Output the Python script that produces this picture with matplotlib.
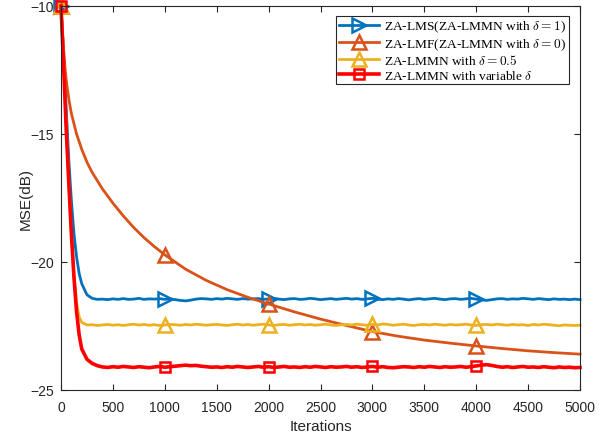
import numpy as np
import matplotlib
matplotlib.use("Agg")
import matplotlib.pyplot as plt

plt.rcParams['mathtext.fontset'] = 'cm'
plt.rcParams['font.family'] = ['Liberation Sans', 'DejaVu Sans']

# sampled iterations for the three fast curves
x_early = [0, 25, 50, 75, 100, 125, 150, 175, 200, 250, 300, 350]
x_plat = list(np.arange(400, 5001, 50))
x_fast = x_early + x_plat

blue_early = [-10, -11.9, -14.0, -16.0, -17.6, -18.9, -19.8, -20.45, -20.85, -21.28, -21.42, -21.46]
blue_plat = [-21.45, -21.47, -21.44, -21.46, -21.43, -21.46, -21.45, -21.42, -21.46, -21.44,
             -21.45, -21.43, -21.46, -21.44, -21.47, -21.50, -21.52, -21.49, -21.45, -21.43,
             -21.44, -21.46, -21.43, -21.45, -21.42, -21.44, -21.46, -21.43, -21.45, -21.44,
             -21.43, -21.46, -21.44, -21.42, -21.45, -21.47, -21.44, -21.43, -21.46, -21.45,
             -21.42, -21.44, -21.47, -21.45, -21.43, -21.46, -21.44, -21.42, -21.45, -21.43,
             -21.46, -21.44, -21.42, -21.45, -21.47, -21.44, -21.46, -21.43, -21.45, -21.48,
             -21.45, -21.43, -21.46, -21.44, -21.42, -21.45, -21.47, -21.44, -21.43, -21.46,
             -21.44, -21.42, -21.45, -21.48, -21.50, -21.47, -21.44, -21.43, -21.46, -21.44,
             -21.45, -21.42, -21.44, -21.46, -21.43, -21.45, -21.47, -21.44, -21.46, -21.45,
             -21.47, -21.45, -21.47]

yellow_early = [-10, -12.2, -14.6, -16.8, -18.8, -20.5, -21.6, -22.15, -22.36, -22.46, -22.45, -22.48]
yellow_plat = [-22.46, -22.44, -22.47, -22.45, -22.48, -22.45, -22.43, -22.46, -22.44, -22.47,
               -22.45, -22.48, -22.46, -22.44, -22.45, -22.47, -22.44, -22.46, -22.43, -22.45,
               -22.47, -22.45, -22.44, -22.46, -22.48, -22.45, -22.43, -22.46, -22.44, -22.47,
               -22.45, -22.43, -22.46, -22.48, -22.45, -22.44, -22.47, -22.45, -22.43, -22.46,
               -22.44, -22.47, -22.45, -22.43, -22.46, -22.48, -22.45, -22.44, -22.46, -22.43,
               -22.45, -22.47, -22.44, -22.46, -22.42, -22.44, -22.47, -22.45, -22.43, -22.46,
               -22.48, -22.45, -22.44, -22.46, -22.43, -22.45, -22.47, -22.44, -22.46, -22.45,
               -22.43, -22.46, -22.48, -22.45, -22.44, -22.46, -22.43, -22.45, -22.47, -22.44,
               -22.46, -22.45, -22.48, -22.44, -22.46, -22.43, -22.45, -22.47, -22.49, -22.46,
               -22.47, -22.48, -22.47]

red_early = [-10, -12.3, -14.8, -16.9, -18.9, -20.6, -21.95, -22.85, -23.4, -23.8, -23.96, -24.05]
red_plat = [-24.10, -24.12, -24.09, -24.11, -24.08, -24.10, -24.12, -24.09, -24.11, -24.13,
            -24.10, -24.08, -24.11, -24.09, -24.07, -24.05, -24.03, -24.05, -24.04, -24.07,
            -24.09, -24.11, -24.10, -24.12, -24.09, -24.11, -24.08, -24.10, -24.12, -24.10,
            -24.08, -24.11, -24.09, -24.12, -24.10, -24.08, -24.11, -24.10, -24.12, -24.09,
            -24.11, -24.08, -24.10, -24.12, -24.09, -24.11, -24.10, -24.08, -24.11, -24.09,
            -24.12, -24.10, -24.08, -24.11, -24.09, -24.12, -24.13, -24.11, -24.09, -24.10,
            -24.12, -24.09, -24.11, -24.08, -24.10, -24.12, -24.09, -24.11, -24.10, -24.08,
            -24.11, -24.09, -24.06, -24.03, -24.01, -24.04, -24.08, -24.11, -24.09, -24.12,
            -24.10, -24.08, -24.11, -24.10, -24.12, -24.09, -24.11, -24.13, -24.10, -24.12,
            -24.11, -24.13, -24.12]

blue = blue_early + blue_plat
yellow = yellow_early + yellow_plat
red = red_early + red_plat

x_lmf = [0, 20, 40, 60, 80, 100, 150, 200, 250, 300, 400, 500, 600, 700, 800, 900, 1000,
         1200, 1400, 1600, 1800, 2000, 2250, 2500, 2750, 3000, 3250, 3500, 3750, 4000,
         4250, 4500, 4750, 5000]
orange = [-10, -11.4, -12.5, -13.2, -13.75, -14.2, -15.0, -15.6, -16.1, -16.5, -17.15, -17.7,
          -18.2, -18.65, -19.05, -19.4, -19.72, -20.28, -20.72, -21.08, -21.38, -21.64,
          -21.95, -22.23, -22.48, -22.72, -22.9, -23.05, -23.17, -23.28, -23.38, -23.47,
          -23.54, -23.6]

mark_at = [0, 1000, 2000, 3000, 4000]
labels = [r'ZA-LMS(ZA-LMMN with $\delta=1$)',
          r'ZA-LMF(ZA-LMMN with $\delta=0$)',
          r'ZA-LMMN with $\delta=0.5$',
          r'ZA-LMMN with variable $\delta$']


def marks(xs):
    return [list(xs).index(v) for v in mark_at]


fig = plt.figure(figsize=(6.12, 4.39), dpi=100)
ax = fig.add_axes([61/612, 1-391/439, 519/612, 384/439])

ax.plot(x_fast, blue, color='#0072BD', lw=2, marker='>', ms=10, mfc='none', mew=1.8,
        markevery=marks(x_fast), label=labels[0], clip_on=False)
ax.plot(x_lmf, orange, color='#D95319', lw=2, marker='^', ms=10, mfc='none', mew=1.8,
        markevery=marks(x_lmf), label=labels[1], clip_on=False)
ax.plot(x_fast, yellow, color='#EDB120', lw=2, marker='^', ms=10, mfc='none', mew=1.8,
        markevery=marks(x_fast), label=labels[2], clip_on=False)
ax.plot(x_fast, red, color='#FF0000', lw=2.6, marker='s', ms=7, mfc='none', mew=1.8,
        markevery=marks(x_fast), label=labels[3], clip_on=False)

ax.set_xlim(0, 5000)
ax.set_ylim(-25, -10)
ax.set_xticks(np.arange(0, 5001, 500))
ax.set_yticks([-25, -20, -15, -10])
ax.tick_params(direction='in', top=True, right=True, length=4, labelsize=10,
               colors='#262626', width=0.8)
ax.tick_params(axis='x', pad=7)
ax.tick_params(axis='y', pad=5)
for s in ax.spines.values():
    s.set_color('#262626')
    s.set_linewidth(0.8)

ax.set_xlabel('Iterations', fontsize=11, color='#262626', labelpad=4)
ax.set_ylabel('MSE(dB)', fontsize=11, color='#262626', labelpad=-2)

leg = ax.legend(loc='upper right', bbox_to_anchor=(0.979, 0.973), fancybox=False,
                edgecolor='#262626', framealpha=1, handlelength=3.0, handletextpad=0.4,
                borderpad=0.2, labelspacing=0.12, borderaxespad=0,
                prop={'family': 'Liberation Serif', 'size': 9.6})
leg.get_frame().set_linewidth(0.8)

fig.savefig('out.png', dpi=100)
